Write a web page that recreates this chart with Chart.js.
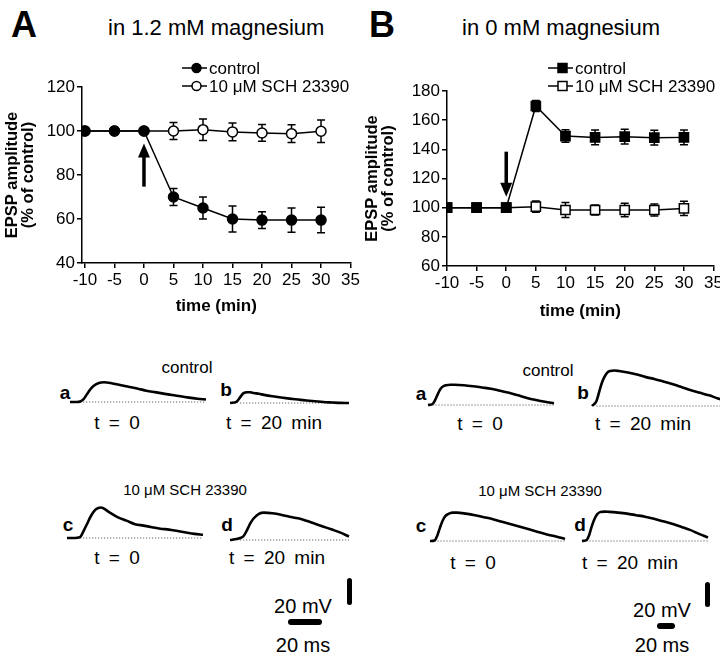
<!DOCTYPE html>
<html>
<head>
<meta charset="utf-8">
<script src="https://cdn.jsdelivr.net/npm/chart.js@4"></script>
<style>
body{margin:0;width:720px;height:663px;position:relative;background:#fff;overflow:hidden;
  font-family:"Liberation Sans",Arial,sans-serif;color:#000}
.t{position:absolute;white-space:nowrap;transform:translate(-50%,-50%);line-height:1}
.l{position:absolute;white-space:nowrap;line-height:1}
canvas{position:absolute}
.bar{position:absolute;background:#000;border-radius:3px}
</style>
</head>
<body>
<!-- panel headings -->
<div class="l" style="left:11px;top:7px;font-size:36px;font-weight:bold">A</div>
<div class="l" style="left:108px;top:17px;font-size:22px">in 1.2 mM magnesium</div>
<div class="l" style="left:369px;top:7px;font-size:36px;font-weight:bold">B</div>
<div class="l" style="left:462px;top:17px;font-size:22px">in 0 mM magnesium</div>

<canvas id="chartA" width="362" height="279" style="left:0;top:40px"></canvas>
<canvas id="chartB" width="365" height="284" style="left:360px;top:40px"></canvas>

<!-- trace labels, panel A -->
<div class="t" style="left:187px;top:367px;font-size:17px">control</div>
<div class="t" style="left:65px;top:392px;font-size:19px;font-weight:bold">a</div>
<div class="t" style="left:117px;top:422px;font-size:19px;word-spacing:4px">t = 0</div>
<div class="t" style="left:226px;top:389px;font-size:19px;font-weight:bold">b</div>
<div class="t" style="left:274px;top:422px;font-size:19px;word-spacing:4px">t = 20 min</div>
<div class="t" style="left:185px;top:489px;font-size:15px">10 μM SCH 23390</div>
<div class="t" style="left:68px;top:524px;font-size:19px;font-weight:bold">c</div>
<div class="t" style="left:117px;top:557px;font-size:19px;word-spacing:4px">t = 0</div>
<div class="t" style="left:227px;top:524px;font-size:19px;font-weight:bold">d</div>
<div class="t" style="left:277px;top:557px;font-size:19px;word-spacing:4px">t = 20 min</div>
<div class="t" style="left:303px;top:606px;font-size:20px">20 mV</div>
<div class="t" style="left:303px;top:645px;font-size:20px">20 ms</div>
<div class="bar" style="left:347px;top:578px;width:5px;height:27px"></div>
<div class="bar" style="left:288px;top:619px;width:34px;height:6px"></div>

<!-- trace labels, panel B -->
<div class="t" style="left:548px;top:370px;font-size:17px">control</div>
<div class="t" style="left:421px;top:393px;font-size:19px;font-weight:bold">a</div>
<div class="t" style="left:480px;top:423px;font-size:19px;word-spacing:4px">t = 0</div>
<div class="t" style="left:583px;top:392px;font-size:19px;font-weight:bold">b</div>
<div class="t" style="left:643px;top:423px;font-size:19px;word-spacing:4px">t = 20 min</div>
<div class="t" style="left:540px;top:490px;font-size:15px">10 μM SCH 23390</div>
<div class="t" style="left:421px;top:525px;font-size:19px;font-weight:bold">c</div>
<div class="t" style="left:473px;top:562px;font-size:19px;word-spacing:4px">t = 0</div>
<div class="t" style="left:580px;top:524px;font-size:19px;font-weight:bold">d</div>
<div class="t" style="left:630px;top:562px;font-size:19px;word-spacing:4px">t = 20 min</div>
<div class="t" style="left:662px;top:610px;font-size:20px">20 mV</div>
<div class="t" style="left:662px;top:645px;font-size:20px">20 ms</div>
<div class="bar" style="left:705px;top:582px;width:5px;height:25px"></div>
<div class="bar" style="left:657px;top:623px;width:18px;height:6px"></div>

<canvas id="ta_a"></canvas><canvas id="ta_b"></canvas>
<canvas id="ta_c"></canvas><canvas id="ta_d"></canvas>
<canvas id="tb_a"></canvas><canvas id="tb_b"></canvas>
<canvas id="tb_c"></canvas><canvas id="tb_d"></canvas>

<script>
// time points of the time-course plots (min)
const timeMin = [-10, -5, 0, 5, 10, 15, 20, 25, 30]
const xTicks = [-10, -5, 0, 5, 10, 15, 20, 25, 30, 35]

// A: 1.2 mM magnesium
const ctrlA    = [100, 100, 100, 70, 65, 60, 59.5, 59.5, 59.5]
const ctrlErrA = [0, 0, 0, 3.9, 5, 5.9, 3.8, 5.5, 5.8]
const schA     = [100, 100, 100, 100, 100.6, 99.6, 99.1, 98.8, 99.9]
const schErrA  = [0, 0, 0, 3.9, 4.9, 4, 3.8, 4, 5.1]
const yTicksA  = [40, 60, 80, 100, 120]
const arrowA   = [74.7, 94.3]

// B: 0 mM magnesium
const ctrlB    = [100, 100, 100, 169.7, 149.1, 148.2, 148.7, 148, 148.2]
const ctrlErrB = [0, 0, 0, 3.8, 4.3, 5.1, 5.1, 5.1, 5.1]
const schB     = [100, 100, 100, 100.7, 98.4, 98.4, 98.4, 98.4, 99.5]
const schErrB  = [0, 0, 0, 3.8, 5.1, 3.4, 4.6, 4.1, 4.9]
const yTicksB  = [60, 80, 100, 120, 140, 160, 180]
const arrowB   = [138.4, 107.5]

// EPSP traces: time (ms) and amplitude above baseline (mV)
const traceTimeA = [0, 4, 6, 8, 10, 12, 14, 17, 20, 25, 30, 35, 40, 45, 50, 55, 60, 65, 70, 75, 80]
const epspAa = [0, 0, 0.4, 2.2, 5.9, 9.6, 12.2, 14.3, 14.8, 13.9, 12.6, 11.2, 10, 8.5, 7.4, 6.3, 5.2, 4.3, 3.3, 2.4, 1.9]
const epspAb = [0, 1.1, 4.4, 7.4, 8.1, 8, 7.5, 6.9, 6.1, 5, 4.1, 3.3, 2.6, 1.9, 1.3, 0.7, 0.4, 0.1, 0, null, null]
const epspAc = [0, 0, 0.2, 1.1, 5.9, 11.1, 16.3, 21.5, 22.9, 19.2, 15.5, 13, 10.4, 9.3, 8.1, 7, 6.3, 5.2, 4.1, 3.1, 2.4]
const epspAd = [0, 0.7, 1.5, 3, 7.4, 12.6, 16.3, 19.6, 20.5, 20, 18.9, 17.4, 16.3, 14.4, 12.2, 10, 7.8, 5.5, 2.6, null, null]

const traceTimeB = [0, 5, 8, 11, 14, 17, 20, 25, 30, 40, 50, 60, 70, 80, 90, 100, 110, 120, 130, 140, 150]
const epspBa = [0, 0.8, 4, 8.8, 12.8, 14.8, 15.6, 16, 16, 15.6, 14.8, 13.8, 12.8, 11.2, 9.6, 7.6, 5.6, 4, 2.6, 1.4, null]
const epspBb = [0, 4, 11.2, 18.4, 23.2, 26.4, 27.6, 28, 27.6, 26.4, 24.8, 22.8, 21.2, 19.2, 17.2, 14.8, 12.4, 10.4, 8.4, 6, 4]
const epspBc = [0, 0.4, 4, 10.4, 16, 19.6, 21.2, 22.4, 22.4, 21.6, 20.4, 18.8, 17.2, 15.2, 13.2, 11.2, 9.2, 7.2, 5.2, 3.6, 1.6]
const epspBd = [0, 0.8, 4.8, 12, 17.6, 21.2, 22.8, 23.2, 23, 22.4, 21.6, 20.4, 19.2, 17.6, 15.6, 13.6, 11.2, 8.8, 5.6, 2.8, null]

Chart.defaults.font.family = '"Liberation Sans", Arial, sans-serif'
Chart.defaults.color = '#000'
Chart.defaults.animation = false
Chart.defaults.responsive = false
Chart.defaults.devicePixelRatio = 1
Chart.defaults.plugins.legend.display = false
Chart.defaults.plugins.tooltip.enabled = false

// draw a marker (used by the little key)
function drawMark(ctx, x, y, shape, filled) {
    ctx.beginPath()
    if (shape == 'rect') ctx.rect(x - 4.5, y - 4.5, 9, 9)
    else ctx.arc(x, y, 4.5, 0, Math.PI * 2)
    ctx.fillStyle = filled ? '#000' : '#fff'
    ctx.fill()
    ctx.lineWidth = 1.5
    ctx.strokeStyle = '#000'
    ctx.stroke()
}

// vertical error bars with caps, drawn under the points
const errBars = {
    id: 'errBars',
    beforeDatasetsDraw(chart, args, opts) {
        const ctx = chart.ctx
        const ys = chart.scales.y
        ctx.save()
        ctx.strokeStyle = '#000'
        ctx.lineWidth = 1.5
        opts.errs.forEach((err, di) => {
            const meta = chart.getDatasetMeta(di)
            meta.data.forEach((pt, i) => {
                if (!err[i]) return
                const v = chart.data.datasets[di].data[i].y
                const y1 = ys.getPixelForValue(v + err[i])
                const y2 = ys.getPixelForValue(v - err[i])
                ctx.beginPath()
                ctx.moveTo(pt.x, y1); ctx.lineTo(pt.x, y2)
                ctx.moveTo(pt.x - 4, y1); ctx.lineTo(pt.x + 4, y1)
                ctx.moveTo(pt.x - 4, y2); ctx.lineTo(pt.x + 4, y2)
                ctx.stroke()
            })
        })
        ctx.restore()
    }
}

// the arrow that marks drug application
const stimArrow = {
    id: 'stimArrow',
    afterDatasetsDraw(chart, args, o) {
        const ctx = chart.ctx
        const x = chart.scales.x.getPixelForValue(o.at)
        const y0 = chart.scales.y.getPixelForValue(o.from)
        const y1 = chart.scales.y.getPixelForValue(o.to)
        const dir = Math.sign(y1 - y0)
        ctx.save()
        ctx.fillStyle = '#000'
        ctx.strokeStyle = '#000'
        ctx.lineWidth = 3.5
        ctx.beginPath()
        ctx.moveTo(x, y0); ctx.lineTo(x, y1 - dir * 10)
        ctx.stroke()
        ctx.beginPath()
        ctx.moveTo(x, y1)
        ctx.lineTo(x - 6, y1 - dir * 14)
        ctx.lineTo(x + 6, y1 - dir * 14)
        ctx.closePath()
        ctx.fill()
        ctx.restore()
    }
}

// key in the upper right corner
const keyBox = {
    id: 'keyBox',
    afterDraw(chart, args, o) {
        const ctx = chart.ctx
        ctx.save()
        o.items.forEach((it, k) => {
            const y = o.y + k * o.gap
            ctx.strokeStyle = '#000'
            ctx.lineWidth = 1.5
            ctx.beginPath(); ctx.moveTo(o.x, y); ctx.lineTo(o.x + o.len, y); ctx.stroke()
            drawMark(ctx, o.x + o.len / 2 + 2, y, o.shape, it.fill)
            ctx.fillStyle = '#000'
            ctx.font = '17px "Liberation Sans", Arial, sans-serif'
            ctx.textBaseline = 'middle'
            ctx.fillText(it.text, o.x + o.len + 2, y + 1)
        })
        ctx.restore()
    }
}

function timeCourse(id, p) {
    const pts = arr => timeMin.map((t, i) => ({ x: t, y: arr[i] }))
    const axisFont = { size: 17 }
    return new Chart(document.getElementById(id), {
        type: 'line',
        data: {
            datasets: [{
                data: pts(p.ctrl),
                borderColor: '#000', borderWidth: 1.5,
                pointStyle: p.shape, pointRadius: p.shape == 'rect' ? 6.5 : 5,
                pointBackgroundColor: '#000', pointBorderColor: '#000', pointBorderWidth: 1.5
            }, {
                data: pts(p.sch),
                borderColor: '#000', borderWidth: 1.5,
                pointStyle: p.shape, pointRadius: p.shape == 'rect' ? 6.5 : 5,
                pointBackgroundColor: '#fff', pointBorderColor: '#000', pointBorderWidth: 1.5
            }]
        },
        options: {
            layout: { padding: { top: p.padTop, right: 10, left: 0, bottom: 0 } },
            scales: {
                x: {
                    type: 'linear', min: p.xMin, max: 35,
                    afterBuildTicks: s => { s.ticks = xTicks.map(v => ({ value: v })) },
                    afterFit: s => { s.height = p.xHeight },
                    ticks: { font: axisFont, padding: 2, maxRotation: 0, autoSkip: false },
                    grid: { drawOnChartArea: false, tickLength: 5, color: '#000', lineWidth: 1.5 },
                    border: { color: '#000', width: 1.5 },
                    title: { display: true, text: 'time (min)', font: { size: 17, weight: 'bold' }, padding: { top: 2, bottom: 2 } }
                },
                y: {
                    min: p.yTicks[0], max: p.yTicks[p.yTicks.length - 1],
                    afterBuildTicks: s => { s.ticks = p.yTicks.map(v => ({ value: v })) },
                    afterFit: s => { s.width = p.yWidth },
                    ticks: { font: axisFont, padding: 2 },
                    grid: { drawOnChartArea: false, tickLength: 5, color: '#000', lineWidth: 1.5 },
                    border: { color: '#000', width: 1.5 },
                    title: { display: true, text: ['EPSP amplitude', '(% of control)'], font: { size: 16.5, weight: 'bold', lineHeight: 1 }, padding: { top: 4, bottom: 2 } }
                }
            },
            plugins: {
                errBars: { errs: [p.ctrlErr, p.schErr] },
                stimArrow: { at: 0, from: p.arrow[0], to: p.arrow[1] },
                keyBox: {
                    x: p.keyX, y: 28, gap: 18, len: 25, shape: p.shape,
                    items: [{ text: 'control', fill: true }, { text: '10 μM SCH 23390', fill: false }]
                }
            }
        },
        plugins: [errBars, stimArrow, keyBox]
    })
}

timeCourse('chartA', {
    ctrl: ctrlA, ctrlErr: ctrlErrA, sch: schA, schErr: schErrA, yTicks: yTicksA,
    arrow: arrowA, shape: 'circle', xMin: -10.5, padTop: 47, xHeight: 56, yWidth: 82, keyX: 182
})
timeCourse('chartB', {
    ctrl: ctrlB, ctrlErr: ctrlErrB, sch: schB, schErr: schErrB, yTicks: yTicksB,
    arrow: arrowB, shape: 'rect', xMin: -10, padTop: 51, xHeight: 58, yWidth: 87, keyX: 188
})

// one EPSP sweep, placed so that t=0 sits at (left, base)
function trace(id, times, vals, dotFrom, left, base, pxMs, pxMv, yTop) {
    const pad = 3
    const c = document.getElementById(id)
    const tMax = times[times.length - 1]
    c.width = Math.round(tMax * pxMs + 2 * pad)
    c.height = Math.round(yTop * pxMv + 2 * pad)
    c.style.left = (left - pad) + 'px'
    c.style.top = (base - yTop * pxMv - pad) + 'px'
    new Chart(c, {
        type: 'line',
        data: {
            datasets: [{
                data: times.map((t, i) => ({ x: t, y: vals[i] })),
                borderColor: '#000', borderWidth: 2.6, pointRadius: 0,
                cubicInterpolationMode: 'monotone', clip: false
            }, {
                data: times.map((t, i) => ({ x: t, y: (i >= dotFrom && vals[i] !== null) ? 0 : null })),
                borderColor: '#444', borderWidth: 1, borderDash: [1, 2], pointRadius: 0, clip: false
            }]
        },
        options: {
            layout: { padding: pad },
            scales: {
                x: { type: 'linear', min: 0, max: tMax, display: false },
                y: { min: 0, max: yTop, display: false }
            }
        }
    })
}

// panel A sweeps: 20 ms = 34 px, 20 mV = 27 px
trace('ta_a', traceTimeA, epspAa, 2, 70, 402, 1.7, 1.35, 24)
trace('ta_b', traceTimeA, epspAb, 2, 230, 403, 1.7, 1.35, 24)
trace('ta_c', traceTimeA, epspAc, 2, 67, 538, 1.7, 1.35, 24)
trace('ta_d', traceTimeA, epspAd, 2, 230, 540, 1.7, 1.35, 24)
// panel B sweeps: 20 ms = 18 px, 20 mV = 25 px
trace('tb_a', traceTimeB, epspBa, 1, 428, 404, 0.9, 1.25, 30)
trace('tb_b', traceTimeB, epspBb, 1, 592, 405, 0.9, 1.25, 30)
trace('tb_c', traceTimeB, epspBc, 1, 430, 540, 0.9, 1.25, 30)
trace('tb_d', traceTimeB, epspBd, 1, 582, 540, 0.9, 1.25, 30)
</script>
</body>
</html>
